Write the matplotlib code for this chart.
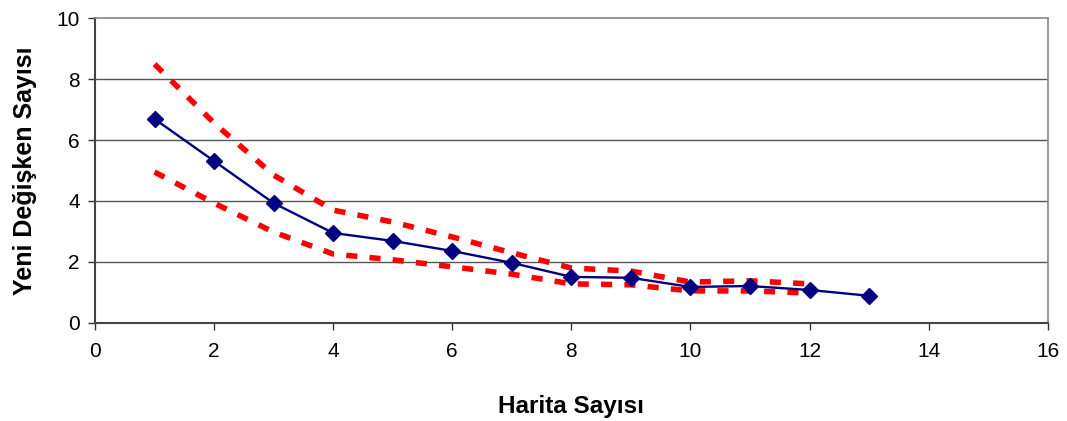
import numpy as np
import matplotlib.pyplot as plt

plt.rcParams['font.family'] = ['Liberation Sans', 'DejaVu Sans']

# values
harita = [1, 2, 3, 4, 5, 6, 7, 8, 9, 10, 11, 12, 13]
ortalama = [6.69, 5.31, 3.93, 2.95, 2.69, 2.36, 1.97, 1.51, 1.48, 1.18, 1.21, 1.08, 0.89]

sinir_x = [1, 2, 3, 4, 5, 6, 7, 8, 9, 10, 11, 12]
ust_sinir = [8.49, 6.56, 4.85, 3.70, 3.31, 2.82, 2.30, 1.80, 1.70, 1.34, 1.38, 1.28]
alt_sinir = [4.95, 3.93, 2.98, 2.26, 2.07, 1.84, 1.60, 1.28, 1.25, 1.05, 1.05, 0.98]

fig = plt.figure(figsize=(10.67, 4.21), dpi=100)
ax = fig.add_axes([0.089, 0.233, 0.893, 0.724])

for y in [2, 4, 6, 8]:
    ax.axhline(y, color="#555555", lw=1.0, zorder=0)

# confidence bounds: thick red dashes
ax.plot(sinir_x, ust_sinir, color="#ff0000", lw=4, dashes=(2.0, 2.2), zorder=2)
ax.plot(sinir_x, alt_sinir, color="#ff0000", lw=4, dashes=(2.0, 2.2), zorder=2)
ax.plot(harita, ortalama, color="#000080", lw=1.7, marker="D", ms=8,
        markerfacecolor="#000080", markeredgecolor="#000080", zorder=3)

ax.set_xlim(0, 16)
ax.set_ylim(0, 10)
ax.set_xticks(np.arange(0, 17, 2))
ax.set_yticks(np.arange(0, 11, 2))
ax.tick_params(axis="both", labelsize=15, direction="out", length=5, width=1, color="#333333")
ax.tick_params(axis="x", pad=9)
ax.tick_params(axis="y", pad=6)

for side in ["top", "right"]:
    ax.spines[side].set_color("#888888")
    ax.spines[side].set_linewidth(1.2)
for side in ["left", "bottom"]:
    ax.spines[side].set_color("#444444")
    ax.spines[side].set_linewidth(1.5)

ax.set_xlabel("Harita Sayısı", fontsize=17.5, fontweight="bold", labelpad=24)
ax.set_ylabel("Yeni Değişken Sayısı", fontsize=18, fontweight="bold", labelpad=14)

fig.savefig("out.png", dpi=100)
